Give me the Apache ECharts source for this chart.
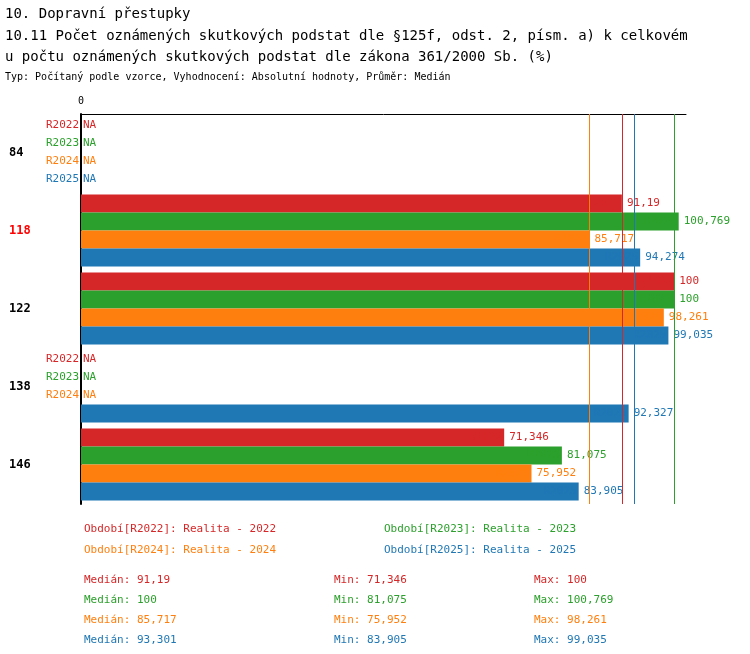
<!DOCTYPE html>
<html><head><meta charset="utf-8">
<script src="https://cdn.jsdelivr.net/npm/echarts@6/dist/echarts.min.js"></script>
<style>body{margin:0;background:#fff}#c{width:750px;height:654px}</style>
</head><body><div id="c"></div>
<script>
const groups = ["84", "118", "122", "138", "146"];
const years = ["R2022", "R2023", "R2024", "R2025"];
const colors = ["#d62728", "#2ca02c", "#ff7f0e", "#1f77b4"];
const values = [
  [null, 91.19, 100, null, 71.346],
  [null, 100.769, 100, null, 81.075],
  [null, 85.717, 98.261, null, 75.952],
  [null, 94.274, 99.035, 92.327, 83.905]
];
const medians = [91.19, 100, 85.717, 93.301];
const mins = [71.346, 81.075, 75.952, 83.905];
const maxs = [100, 100.769, 98.261, 99.035];
const periods = ["Realita - 2022", "Realita - 2023", "Realita - 2024", "Realita - 2025"];

const fmt = v => String(v).replace(".", ",");
const mono = "DejaVu Sans Mono";

let series = [];
years.forEach((y, i) => {
  series.push({
    type: "bar", name: y, stack: y, barWidth: 18, barGap: 0,
    data: values[i], itemStyle: { color: colors[i] },
    label: { show: true, position: "right", color: colors[i], fontFamily: mono, fontSize: 11,
      formatter: p => fmt(p.value) }
  });
  series.push({
    type: "bar", stack: y, barWidth: 18, data: groups.map(() => 0),
    itemStyle: { color: "transparent" },
    label: { show: true, position: "left", distance: 2, color: colors[i], fontFamily: mono, fontSize: 11, formatter: y }
  });
  series.push({
    type: "bar", stack: y, barWidth: 18, data: values[i].map(v => v == null ? 0 : null),
    itemStyle: { color: "transparent" },
    label: { show: true, position: "right", distance: 2, color: colors[i], fontFamily: mono, fontSize: 11, formatter: "NA" }
  });
});
series.push({
  type: "bar", data: [], markLine: {
    silent: true, symbol: "none", animation: false, label: { show: false },
    data: medians.map((m, i) => ({ xAxis: m, lineStyle: { color: colors[i], type: "solid", width: 1 } }))
  }
});

const txt = (text, left, top, color, size, weight) => ({
  text, left, top, textStyle: { color, fontFamily: mono, fontSize: size || 11, fontWeight: weight || "normal" }
});
let titles = [
  txt("10. Dopravní přestupky", 0, 2, "#000", 14),
  txt("10.11 Počet oznámených skutkových podstat dle §125f, odst. 2, písm. a) k celkovém", 0, 24, "#000", 14),
  txt("u počtu oznámených skutkových podstat dle zákona 361/2000 Sb. (%)", 0, 45, "#000", 14),
  txt("Typ: Počítaný podle vzorce, Vyhodnocení: Absolutní hodnoty, Průměr: Medián", 0, 67, "#000", 10)
];
years.forEach((y, i) => {
  titles.push(txt("Období[" + y + "]: " + periods[i], i % 2 ? 379 : 79, 519 + Math.floor(i / 2) * 21, colors[i]));
  titles.push(txt("Medián: " + fmt(medians[i]), 79, 570 + i * 20, colors[i]));
  titles.push(txt("Min: " + fmt(mins[i]), 329, 570 + i * 20, colors[i]));
  titles.push(txt("Max: " + fmt(maxs[i]), 529, 570 + i * 20, colors[i]));
});

const chart = echarts.init(document.getElementById("c"));
chart.setOption({
  animation: false,
  title: titles,
  grid: { left: 81, right: 64, top: 114, height: 390 },
  xAxis: {
    type: "value", position: "top", min: 0, max: 102, interval: 102,
    splitLine: { show: false }, axisTick: { show: false },
    axisLine: { show: true, lineStyle: { color: "#000" } },
    axisLabel: { fontFamily: mono, fontSize: 10, color: "#000", formatter: v => v === 0 ? "0" : "" }
  },
  yAxis: {
    type: "category", data: groups, inverse: true,
    axisTick: { show: false },
    axisLine: { lineStyle: { color: "#000", width: 2 } },
    axisLabel: {
      align: "left", margin: 72, fontFamily: mono, fontSize: 12, fontWeight: "bold",
      formatter: v => v === "118" ? "{r|" + v + "}" : v,
      rich: { r: { color: "#ff0000", fontFamily: mono, fontSize: 12, fontWeight: "bold" } },
      color: "#000"
    }
  },
  series
});
</script></body></html>
